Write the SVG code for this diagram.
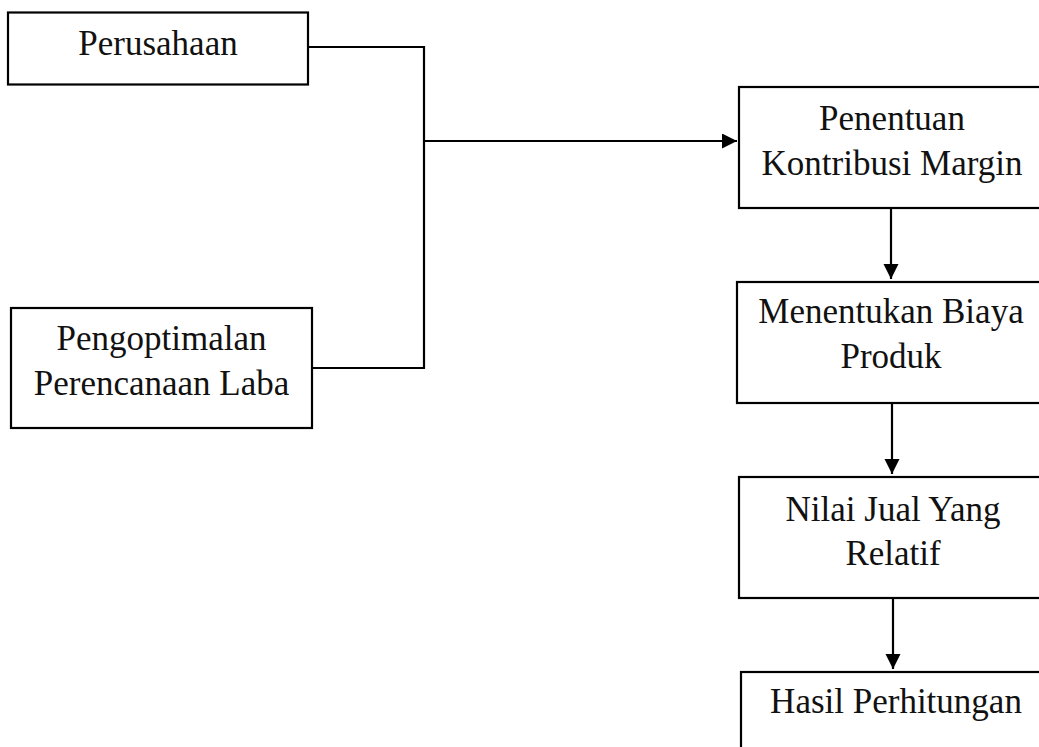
<svg xmlns="http://www.w3.org/2000/svg" width="1039" height="747" viewBox="0 0 1039 747">
<style>
.box{fill:#fff;stroke:#000;stroke-width:2.2}
.lbl{font-family:"Liberation Serif","Times New Roman",serif;font-size:35px;fill:#111;text-anchor:middle}
.con{fill:none;stroke:#000;stroke-width:2.2}
</style>
<defs>
<marker id="ah" markerUnits="userSpaceOnUse" markerWidth="16" markerHeight="16" refX="15" refY="7.5" orient="auto">
<path d="M0,0 L15,7.5 L0,15 Z" fill="#000"/>
</marker>
</defs>
<rect width="1039" height="747" fill="#fff"/>
<g id="connectors">
<path class="con" d="M308,47 H424 V368 H312"/>
<path class="con" d="M424,141 H737" marker-end="url(#ah)"/>
<path class="con" d="M891,208 V279" marker-end="url(#ah)"/>
<path class="con" d="M892,403 V474" marker-end="url(#ah)"/>
<path class="con" d="M893,598 V669" marker-end="url(#ah)"/>
</g>
<g id="perusahaan">
<rect class="box" x="8" y="12.5" width="300" height="72"/>
<text class="lbl" x="158" y="55">Perusahaan</text>
</g>
<g id="pengoptimalan">
<rect class="box" x="11" y="308" width="301" height="120"/>
<text class="lbl" x="161.5" y="350">Pengoptimalan</text>
<text class="lbl" x="161.5" y="395">Perencanaan Laba</text>
</g>
<g id="penentuan">
<rect class="box" x="739" y="87" width="310" height="121"/>
<text class="lbl" x="892" y="130">Penentuan</text>
<text class="lbl" x="892" y="175">Kontribusi Margin</text>
</g>
<g id="menentukan">
<rect class="box" x="737" y="282" width="312" height="121"/>
<text class="lbl" x="891" y="323">Menentukan Biaya</text>
<text class="lbl" x="891" y="368">Produk</text>
</g>
<g id="nilai">
<rect class="box" x="739" y="477" width="312" height="121"/>
<text class="lbl" x="893" y="521">Nilai Jual Yang</text>
<text class="lbl" x="893" y="565">Relatif</text>
</g>
<g id="hasil">
<rect class="box" x="741" y="672" width="312" height="121"/>
<text class="lbl" x="896" y="713">Hasil Perhitungan</text>
</g>
</svg>
